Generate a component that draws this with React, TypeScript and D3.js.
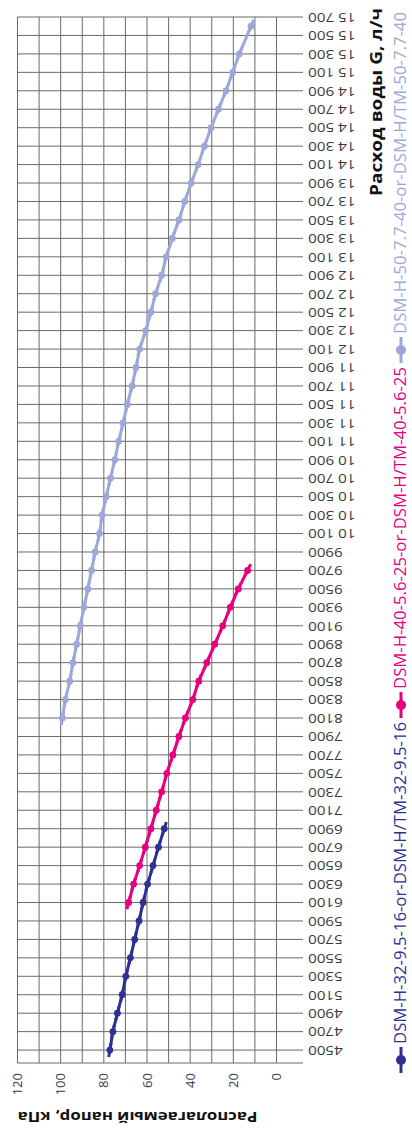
import React from "react";
import * as d3 from "d3";

// Original (unrotated) frame: G on horizontal axis, kPa on vertical axis.
// The whole chart is then rotated -90° to fit the 412x1130 page.
const W = 1130;
const H = 412;

const gTicks = d3.range(4500, 15701, 200);
const kpaLabels = [0, 20, 40, 60, 80, 100, 120];
const kpaGrid = d3.range(0, 121, 10);

const names = [
  "DSM-H-32-9.5-16-or-DSM-H/TM-32-9.5-16",
  "DSM-H-40-5.6-25-or-DSM-H/TM-40-5.6-25",
  "DSM-H-50-7.7-40-or-DSM-H/TM-50-7.7-40",
];
const colors = ["#2e3192", "#e6007e", "#9ea7d9"];

const g32 = [4500, 4700, 4900, 5100, 5300, 5500, 5700, 5900, 6100, 6300, 6500, 6700, 6900];
const p32 = [77.2, 75.8, 73.7, 71.5, 69.8, 67.7, 65.7, 63.7, 61.8, 59.7, 57.2, 54.7, 52.0];

const g40 = [6100, 6300, 6500, 6700, 6900, 7100, 7300, 7500, 7700, 7900, 8100, 8300, 8500, 8700, 8900, 9100, 9300, 9500, 9700];
const p40 = [68.5, 66.2, 63.4, 60.8, 58.2, 55.7, 53.2, 50.8, 48.0, 45.2, 42.2, 38.8, 36.0, 32.3, 28.6, 24.9, 21.4, 17.7, 13.4];

const g50 = [8100, 8300, 8500, 8700, 8900, 9100, 9300, 9500, 9700, 9900, 10100, 10300, 10500, 10700, 10900, 11100, 11300, 11500, 11700, 11900, 12100, 12300, 12500, 12700, 12900, 13100, 13300, 13500, 13700, 13900, 14100, 14300, 14500, 14700, 14900, 15100, 15300, 15600];
const p50 = [99.2, 97.8, 95.8, 94.3, 92.6, 90.9, 89.2, 87.4, 85.7, 84.0, 82.0, 80.8, 78.9, 76.9, 74.9, 73.1, 71.1, 69.1, 66.9, 65.1, 63.4, 60.6, 58.2, 56.0, 53.2, 51.1, 48.3, 45.2, 42.5, 39.5, 36.3, 33.4, 30.3, 26.9, 23.4, 20.3, 17.2, 11.8];

const xTitle = "Расход воды G, л/ч";
const yTitle = "Располагаемый напор, кПа";

const fmtG = (g: number) =>
  g >= 10000 ? `${Math.floor(g / 1000)} ${String(g % 1000).padStart(3, "0")}` : String(g);

export default function App() {
  const x = d3.scaleLinear().domain([4360, 15700]).range([67, 1113]);
  const y = d3.scaleLinear().domain([0, 120]).range([276.5, 17.5]);
  const gridColor = "#6a6a6a";
  const tickEnd = 303;

  const series = [
    { g: g32, p: p32 },
    { g: g40, p: p40 },
    { g: g50, p: p50 },
  ].map((s, i) => ({
    pts: s.g.map((g, j) => ({ g, v: s.p[j] })),
    color: colors[i],
    name: names[i],
  }));

  const line = d3
    .line<{ g: number; v: number }>()
    .x((d) => x(d.g))
    .y((d) => y(d.v));

  const legendX = [70, 425, 780];
  const font = "'Open Sans', 'Noto Sans', sans-serif";

  return (
    <svg
      width={412}
      height={1130}
      style={{ position: "absolute", left: 0, top: 0, background: "#fff" }}
    >
      <g transform={`translate(0,${W}) rotate(-90)`}>
        {/* kPa gridlines */}
        {kpaGrid.map((v) => (
          <line key={"h" + v} x1={x.range()[0]} x2={x.range()[1]} y1={y(v)} y2={y(v)} stroke={gridColor} strokeWidth={1} />
        ))}
        {/* G gridlines with tick extension */}
        {[x.domain()[0], ...gTicks].map((g) => (
          <line key={"v" + g} x1={x(g)} x2={x(g)} y1={y(120)} y2={tickEnd} stroke={gridColor} strokeWidth={1} />
        ))}
        {/* G tick labels */}
        {gTicks.map((g) => (
          <text
            key={"gl" + g}
            transform={`translate(${x(g)},${tickEnd + 5}) rotate(-90) scale(1.27,1)`}
            textAnchor="end"
            dy="0.35em"
            fontSize={12}
            fontFamily={font}
            fill="#3a3a3a"
          >
            {fmtG(g)}
          </text>
        ))}
        {/* kPa tick labels */}
        {kpaLabels.map((v) => (
          <text key={"kl" + v} x={57} y={y(v)} dy="0.35em" textAnchor="end" fontSize={13} fontFamily={font} fill="#3a3a3a">
            {v}
          </text>
        ))}
        {/* axis titles */}
        <text
          transform={`translate(13,${y(120)}) rotate(-90)`}
          textAnchor="end"
          dy="0.35em"
          fontSize={15}
          fontWeight="bold"
          fontFamily={font}
          fill="#111"
          textLength={240}
          lengthAdjust="spacingAndGlyphs"
        >
          {yTitle}
        </text>
        <text
          x={1122}
          y={376}
          dy="0.35em"
          textAnchor="end"
          fontSize={16}
          fontWeight="bold"
          fontFamily={font}
          fill="#111"
          textLength={188}
          lengthAdjust="spacingAndGlyphs"
        >
          {xTitle}
        </text>
        {/* series */}
        {series.map((s, i) => (
          <g key={"s" + i}>
            <path d={line(s.pts) || ""} fill="none" stroke={s.color} strokeWidth={3} />
            {s.pts.map((d, j) => {
              const a = s.pts[Math.max(0, j - 1)];
              const b = s.pts[Math.min(s.pts.length - 1, j + 1)];
              const dx = x(b.g) - x(a.g);
              const dy = y(b.v) - y(a.v);
              const len = Math.hypot(dx, dy) || 1;
              const ux = (dx / len) * 7;
              const uy = (dy / len) * 7;
              const cx = x(d.g);
              const cy = y(d.v);
              return (
                <g key={j}>
                  <line x1={cx - ux} y1={cy - uy} x2={cx + ux} y2={cy + uy} stroke={s.color} strokeWidth={3} />
                  <circle cx={cx} cy={cy} r={3.4} fill={s.color} />
                </g>
              );
            })}
          </g>
        ))}
        {/* legend */}
        {series.map((s, i) => (
          <g key={"lg" + i} transform={`translate(${legendX[i]},401)`}>
            <line x1={-13} x2={13} y1={0} y2={0} stroke={s.color} strokeWidth={3} />
            <circle cx={0} cy={0} r={5} fill={s.color} />
            <text
              x={16}
              y={0}
              dy="0.35em"
              fontSize={15.5}
              fontFamily={font}
              fill={s.color}
              textLength={322}
              lengthAdjust="spacingAndGlyphs"
            >
              {s.name}
            </text>
          </g>
        ))}
      </g>
    </svg>
  );
}
